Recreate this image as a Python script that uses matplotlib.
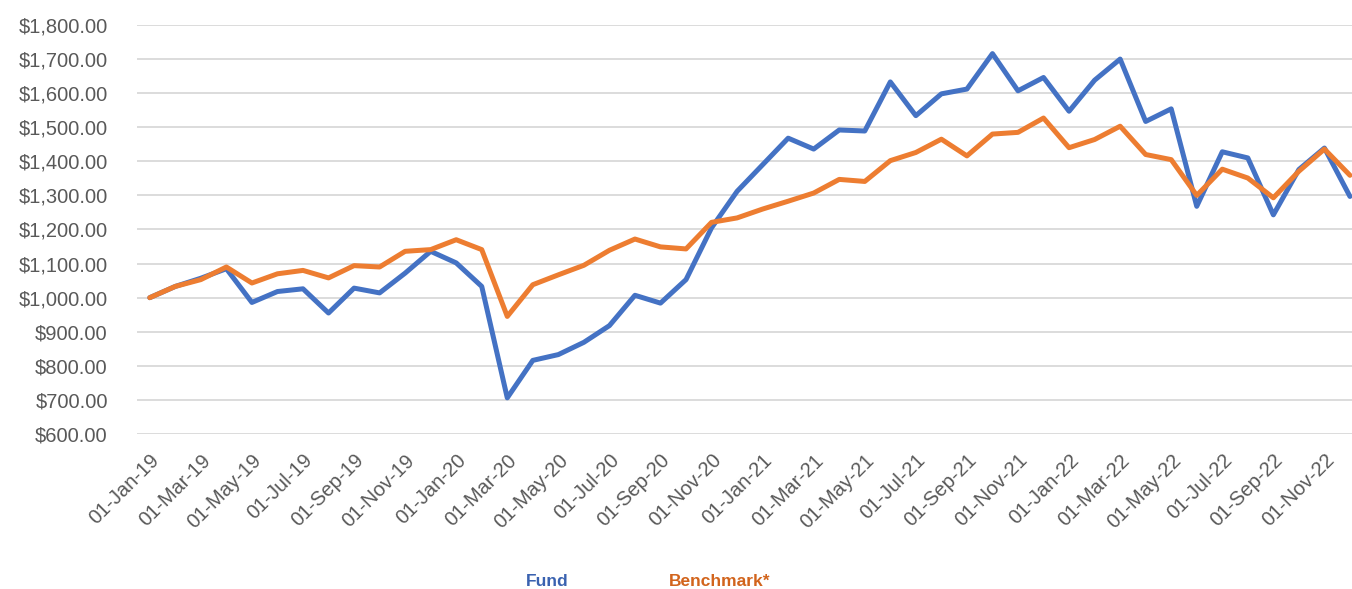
import numpy as np
import pandas as pd
import matplotlib
matplotlib.use("Agg")
import matplotlib.pyplot as plt
from matplotlib.ticker import FuncFormatter

dates = pd.date_range("2019-01-01", periods=48, freq="MS")

fund = [1000, 1033, 1057, 1085, 986, 1018, 1026, 955, 1028, 1014,
        1072, 1136, 1102, 1033, 706, 816, 833, 869, 918, 1007,
        984, 1053, 1205, 1312, 1390, 1468, 1436, 1492, 1489, 1633,
        1534, 1598, 1612, 1716, 1607, 1646, 1547, 1638, 1700, 1517,
        1554, 1268, 1428, 1410, 1243, 1376, 1439, 1297]

benchmark = [1000, 1033, 1053, 1090, 1043, 1070, 1080, 1058, 1094, 1090,
             1136, 1141, 1170, 1141, 945, 1038, 1067, 1095, 1139, 1172,
             1149, 1143, 1221, 1234, 1260, 1283, 1307, 1347, 1341, 1402,
             1426, 1465, 1416, 1480, 1485, 1527, 1440, 1464, 1503, 1420,
             1405, 1300, 1377, 1351, 1293, 1371, 1436, 1359]

tick_labels = [d.strftime("%d-%b-%y") for d in dates[::2]]

plt.rcParams['font.family'] = ['Liberation Sans', 'DejaVu Sans']

fig = plt.figure(figsize=(13.52, 5.89), dpi=100)
ax = fig.add_axes([137 / 1352, 1 - 434 / 589, 1 - 137 / 1352, (434 - 25) / 589])

x = np.arange(len(dates))
ax.plot(x, fund, color='#4472C4', linewidth=3.6, solid_joinstyle='round', solid_capstyle='round', zorder=3)
ax.plot(x, benchmark, color='#ED7D31', linewidth=3.6, solid_joinstyle='round', solid_capstyle='round', zorder=3)

ax.set_ylim(600, 1800)
ax.set_yticks(np.arange(600, 1801, 100))
ax.yaxis.set_major_formatter(FuncFormatter(lambda v, p: f"${v:,.2f}"))
ax.set_xlim(-0.5, 47.08)
ax.set_xticks(x[::2])
ax.set_xticklabels(tick_labels, rotation=45, ha='right', rotation_mode='anchor')

ax.grid(axis='y', color='#d9d9d9', linewidth=1.3)
ax.set_axisbelow(True)
for s in ax.spines.values():
    s.set_visible(False)
ax.tick_params(axis='both', length=0, labelsize=14.5, labelcolor='#595959')
ax.tick_params(axis='y', pad=21)
ax.tick_params(axis='x', pad=12)

fig.text(547 / 1352, 1 - 581 / 589, "Fund", color='#3A62B0', fontweight='bold',
         fontsize=12.5, ha='center', va='center')
fig.text(720 / 1352, 1 - 581 / 589, "Benchmark*", color='#D2641C', fontweight='bold',
         fontsize=12.5, ha='center', va='center')

fig.savefig("out.png", dpi=100)
